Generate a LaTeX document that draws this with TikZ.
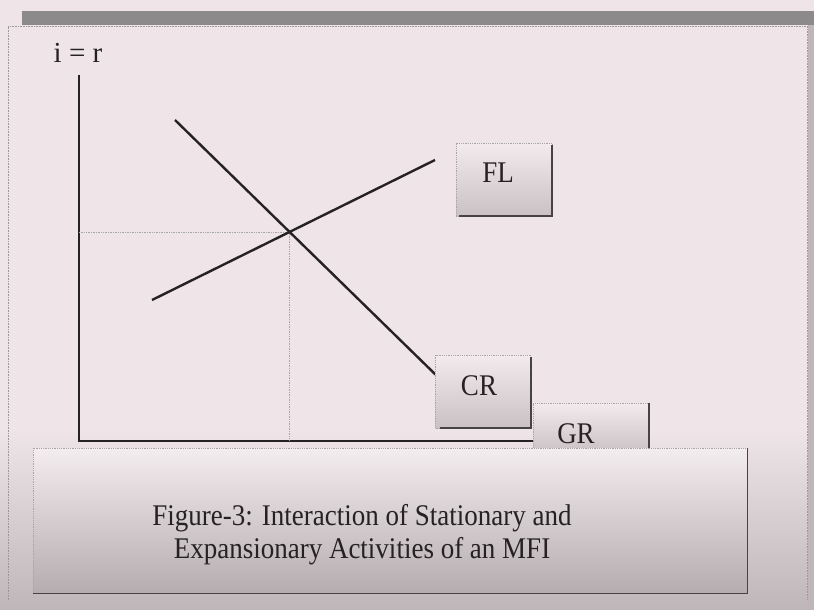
\documentclass[tikz,border=0pt]{standalone}
\usepackage{fontspec}
\setmainfont{Liberation Serif}
\newfontfamily\condserif[FakeStretch=0.9]{Liberation Serif}
\definecolor{bgpink}{HTML}{EFE5E9}
\definecolor{lowgray}{HTML}{BEB6B9}
\definecolor{barcol}{HTML}{8C8A8B}
\definecolor{boxlow}{HTML}{C9C1C4}
\definecolor{ink}{HTML}{262224}
\tikzset{
  axisline/.style={draw=ink, line width=2.2pt},
  curve/.style={draw=ink, line width=2.4pt},
  guide/.style={draw=gray!70, densely dotted, line width=0.7pt},
  framedot/.style={draw=gray!80, densely dotted, line width=0.6pt},
  tagbox/.style={draw=gray!70, densely dotted, line width=0.8pt, top color=bgpink!80!white, bottom color=boxlow, inner sep=0pt},
  shadowline/.style={draw=ink!85, line width=2pt},
  lbl/.style={font=\condserif\fontsize{30}{34}\selectfont, text=ink, inner sep=0pt},
  captext/.style={font=\condserif\fontsize{30}{33}\selectfont, text=ink, align=center, inner sep=0pt}
}
\begin{document}
\begin{tikzpicture}[x=1pt,y=-1pt]
\useasboundingbox (0,0) rectangle (814,610);
\fill[bgpink] (0,0) rectangle (814,610);
\fill[barcol] (22,11) rectangle (814,25);
\shade[top color=bgpink, bottom color=lowgray] (0,430) rectangle (814,610);
\fill[lowgray] (808,25) rectangle (814,610);
\draw[framedot] (8,600) -- (8,26) -- (807,26) -- (807,600);

% axes
\node[lbl, font=\rmfamily\fontsize{29}{32}\selectfont] (ir) at (78,53) {i = r};
\coordinate (ytop) at (79,75);
\coordinate (O) at (79,441);
\coordinate (xend) at (533,441);
\draw[axisline] (ytop) -- (O) -- (xend);

% curves
\coordinate (cr1) at (175,120);
\coordinate (cr2) at (437,376);
\coordinate (fl1) at (152,300);
\coordinate (fl2) at (435,160);
\coordinate (E) at (intersection of cr1--cr2 and fl1--fl2);
\draw[guide] (O |- E) -- (E) -- (E |- O);
\draw[curve] (cr1) -- (cr2);
\draw[curve] (fl1) -- (fl2);

% GR box
\node[tagbox, minimum width=116pt, minimum height=50pt] (grbox) at (591,428) {};
\draw[shadowline] (grbox.north east) -- (grbox.south east);
\node[lbl] (gr) at (576,434) {GR};

% CR box
\node[tagbox, minimum width=95pt, minimum height=73pt] (crbox) at (483,391.5) {};
\draw[shadowline] ([yshift=-2pt]crbox.north east) -- (crbox.south east) -- ([xshift=5pt]crbox.south west);
\node[lbl] (cr) at (479,386) {CR};

% FL box
\node[tagbox, minimum width=96pt, minimum height=73pt] (flbox) at (504,179.5) {};
\draw[shadowline] ([yshift=-2pt]flbox.north east) -- (flbox.south east) -- ([xshift=3pt]flbox.south west);
\node[lbl] (fl) at (498,173) {FL};

% caption box
\node[tagbox, top color=bgpink!70!white, bottom color=lowgray!95!black, minimum width=714pt, minimum height=145pt] (capbox) at (390,520.5) {};
\draw[shadowline, line width=1.6pt] (capbox.north east) -- (capbox.south east) -- (capbox.south west);
\node[captext] (caption) at (362,535) {Figure-3: Interaction of Stationary and\\Expansionary Activities of an MFI};
\end{tikzpicture}
\end{document}
